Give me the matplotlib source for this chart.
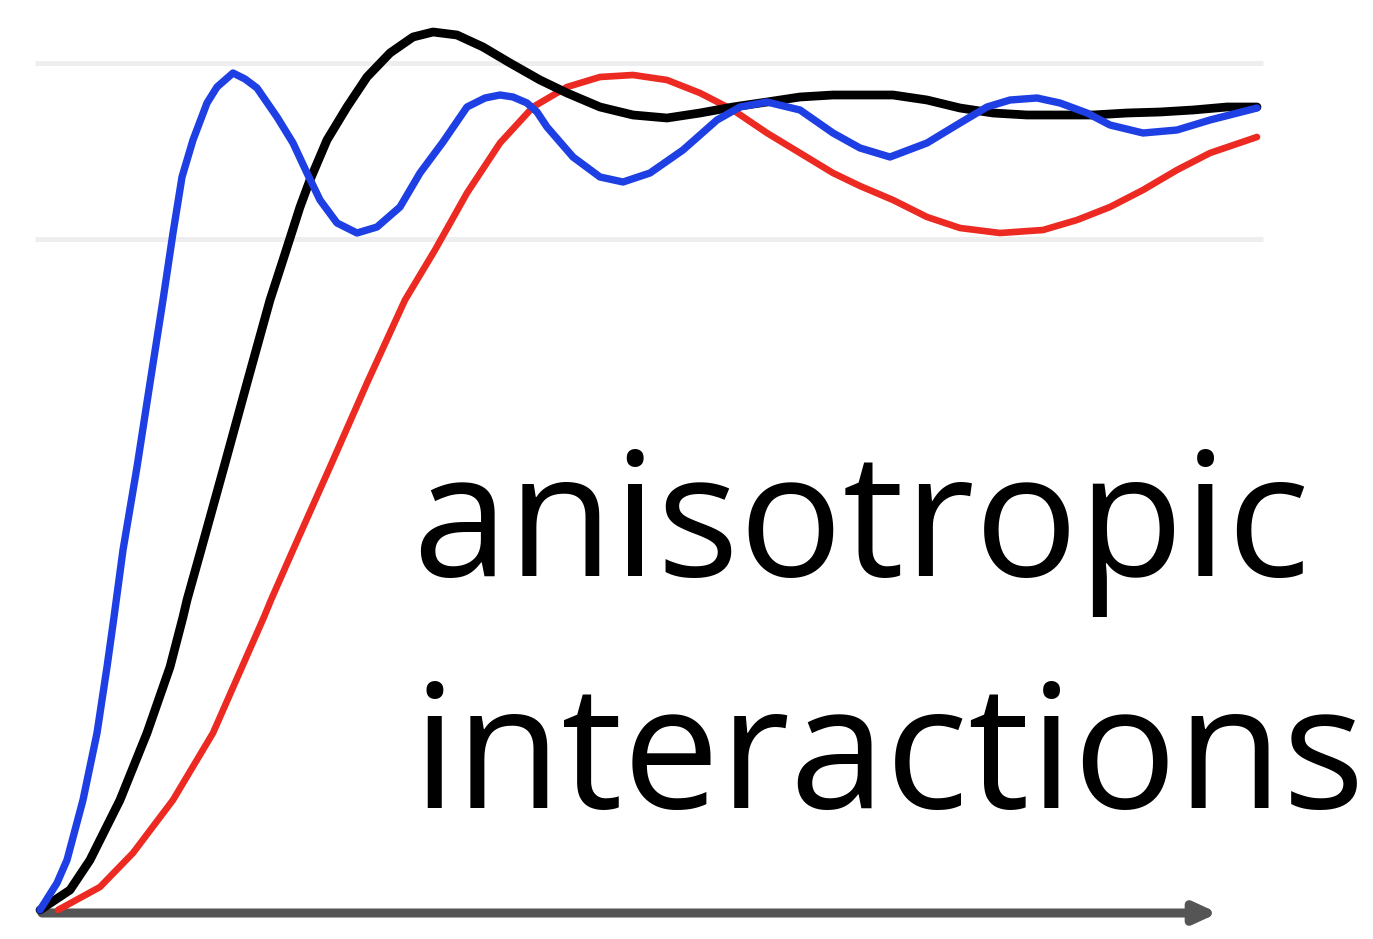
import matplotlib.pyplot as plt

# time (px from origin) and response (px above the time axis)
blue_t = [0, 17, 27, 43, 57, 67, 74, 83, 97, 110, 123, 133, 142, 153, 167, 177, 193, 205, 217, 237,
          253, 267, 280, 297, 317, 337, 360, 380, 403, 427, 445, 460, 473, 487, 497, 507, 533, 560, 583, 610,
          643, 677, 700, 727, 760, 793, 820, 850, 887, 920, 947, 970, 997, 1020, 1047, 1070, 1103, 1137, 1170, 1217]
blue_r = [0, 27, 50, 110, 177, 243, 293, 360, 443, 527, 610, 677, 733, 770, 807, 823, 837, 831, 822, 793,
          767, 737, 710, 687, 677, 683, 703, 737, 768, 803, 812, 815, 813, 807, 798, 783, 753, 733, 728, 737,
          760, 790, 803, 808, 800, 777, 762, 753, 767, 787, 803, 810, 812, 807, 797, 785, 777, 780, 790, 802]

black_t = [0, 30, 50, 80, 107, 130, 143, 147, 161, 184, 207, 230, 243, 260, 270, 287, 307, 327, 350, 373,
           393, 417, 443, 470, 500, 527, 560, 593, 627, 660, 693, 727, 760, 793, 820, 853, 887, 920, 953, 987,
           1020, 1053, 1087, 1120, 1153, 1187, 1217]
black_r = [0, 20, 50, 110, 177, 243, 293, 310, 360, 443, 527, 610, 650, 703, 730, 770, 803, 833, 857, 873,
           878, 875, 863, 847, 830, 817, 803, 795, 792, 797, 803, 808, 813, 815, 815, 815, 810, 802, 797, 795,
           795, 795, 797, 798, 800, 803, 803]

red_t = [18, 60, 93, 133, 173, 202, 224, 231, 253, 290, 327, 365, 395, 427, 460, 493, 527, 560, 593, 627,
         660, 693, 727, 760, 793, 820, 853, 887, 920, 960, 1003, 1037, 1070, 1103, 1137, 1170, 1217]
red_r = [0, 23, 57, 110, 177, 243, 293, 310, 360, 443, 527, 610, 660, 717, 767, 803, 823, 833, 835, 830,
         817, 800, 777, 757, 737, 724, 710, 693, 682, 677, 680, 690, 703, 720, 740, 757, 773]

grid_levels = [847, 671]
label_lines = ["anisotropic", "interactions"]
label_baselines = [334, 102]

fig = plt.figure(figsize=(13.73, 9.39), dpi=100)
ax = fig.add_axes([0, 0, 1, 1])
ax.set_xlim(-40, 1333)
ax.set_ylim(-29, 910)
ax.axis("off")

ax.hlines(grid_levels, -5, 1223, color="#eeeeee", lw=3.6, zorder=1)

ax.annotate("", xy=(1178, -3), xytext=(2, -3),
            arrowprops=dict(arrowstyle="-|>,head_length=1.3,head_width=0.6",
                            color="#555555", lw=6.5, shrinkA=0, shrinkB=0), zorder=2)

style = dict(solid_joinstyle="round", solid_capstyle="round")
ax.plot(red_t, red_r, color="#ec2a22", lw=4.8, zorder=3, **style)
ax.plot(black_t, black_r, color="#000000", lw=6.3, zorder=4, **style)
ax.plot(blue_t, blue_r, color="#1e3fe4", lw=5.3, zorder=5, **style)

for txt, yb in zip(label_lines, label_baselines):
    ax.text(372, yb, txt, fontsize=124, family="Open Sans", va="baseline", ha="left", zorder=6)

fig.savefig("out.png", dpi=100)
